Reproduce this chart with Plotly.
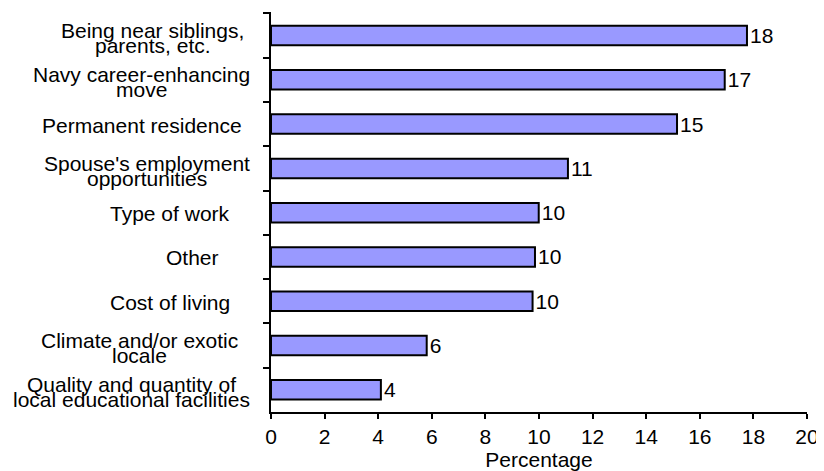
import plotly.graph_objects as go

# ---- data ----
categories = [
    "Being near siblings,|parents, etc.",
    "Navy career-enhancing|move",
    "Permanent residence ",
    "Spouse's employment|opportunities",
    "Type of work   ",
    "Other     ",
    "Cost of living   ",
    "Climate and/or exotic|locale",
    "Quality and quantity of|local educational facilities",
]
label_pad = [1, 0, 1, 0, 3, 5, 3, 2, 0]  # trailing spaces in the source labels
values = [17.76, 16.93, 15.15, 11.08, 9.99, 9.85, 9.76, 5.81, 4.10]
x_ticks = list(range(0, 21, 2))
x_title = "Percentage"

FONT = "Liberation Sans, Arial, sans-serif"
FS = 21

# Arial / Liberation Sans advance widths (per 1000 em)
W = {' ': 278, ',': 278, "'": 191, '-': 333, '.': 278, '/': 278}
W.update({c: w for c, w in zip("ABCDEFGHIJKLMNOPQRSTUVWXYZ",
    [667,667,722,722,667,611,778,722,278,500,667,556,833,722,778,667,778,722,667,611,722,667,944,667,667,611])})
W.update({c: w for c, w in zip("abcdefghijklmnopqrstuvwxyz",
    [556,556,500,556,556,278,556,556,222,222,500,222,833,556,556,556,556,333,500,278,556,500,722,500,500,500])})

def text_w(s):
    return sum(W.get(ch, 556) for ch in s) * FS / 1000.0

ids = [str(i) for i in range(len(categories))]

fig = go.Figure(go.Bar(
    y=ids, x=values, orientation="h",
    marker=dict(color="#9999FF", line=dict(color="black", width=2)),
    texttemplate="%{x:.0f}", textposition="outside", constraintext="none",
    textfont=dict(family=FONT, size=FS, color="black"),
    cliponaxis=False, hoverinfo="skip",
))

AXIS_GAP = 21  # px between axis line and right edge of labels
annotations = []
for cid, lab, pad in zip(ids, categories, label_pad):
    lines = lab.strip().split("|")
    right = -(AXIS_GAP + pad * text_w(" "))
    if len(lines) == 1:
        annotations.append(dict(xref="paper", yref="y", x=0, y=cid, text=lines[0],
                                xanchor="right", yanchor="middle", xshift=right, yshift=-1,
                                showarrow=False, font=dict(family=FONT, size=FS, color="black")))
    else:
        wmax = max(text_w(l) for l in lines)
        cx = right - wmax / 2
        for l, ys in zip(lines, [5, -10]):
            annotations.append(dict(xref="paper", yref="y", x=0, y=cid, text=l,
                                    xanchor="center", yanchor="middle", xshift=cx, yshift=ys,
                                    showarrow=False, font=dict(family=FONT, size=FS, color="black")))

# the page places the figure 8px in from the top-left corner (body margin)
fig.update_layout(
    width=816, height=463,
    margin=dict(l=263, r=17, t=4, b=59, pad=0, autoexpand=False),
    paper_bgcolor="white", plot_bgcolor="white",
    bargap=0.56, showlegend=False,
    font=dict(family=FONT, size=FS, color="black"),
    annotations=annotations,
)
fig.update_xaxes(
    range=[0, 20], tickvals=x_ticks, ticktext=[str(t) for t in x_ticks],
    showgrid=False, zeroline=False, automargin=False,
    showline=True, linecolor="black", linewidth=2,
    ticks="outside", ticklen=5, tickwidth=2, tickcolor="black",
    tickfont=dict(family=FONT, size=FS, color="black"),
    title=dict(text=x_title, font=dict(family=FONT, size=FS, color="black"), standoff=0),
)
fig.update_yaxes(
    type="category", autorange="reversed", automargin=False,
    showgrid=False, zeroline=False,
    showline=True, linecolor="black", linewidth=2,
    ticks="outside", ticklen=6, tickwidth=2, tickcolor="black",
    tickson="boundaries", showticklabels=False,
)

fig.write_html("out.html")
